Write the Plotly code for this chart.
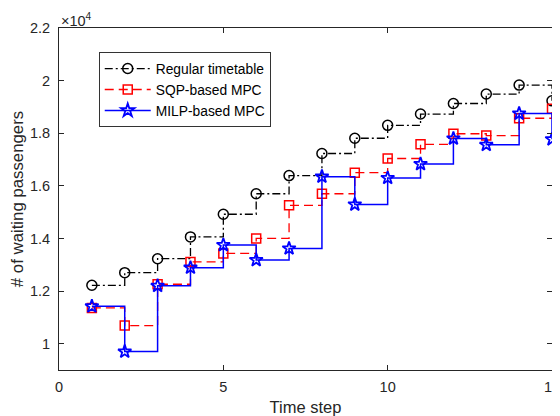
import plotly.graph_objects as go

time_steps = list(range(1, 16))
regular_timetable = [12220, 12700, 13230, 14060, 14920, 15700, 16390, 17230, 17810, 18300, 18730, 19130, 19490, 19830, 19230]
sqp_mpc = [11360, 10690, 12260, 13110, 13430, 14000, 15260, 15700, 16500, 17040, 17580, 17980, 17910, 18570, 18930]
milp_mpc = [11420, 9700, 12200, 12890, 13750, 13180, 13620, 16350, 15290, 16300, 16830, 17800, 17560, 18750, 17770]

y_tickvals = [10000, 12000, 14000, 16000, 18000, 20000, 22000]
y_ticktext = ["1", "1.2", "1.4", "1.6", "1.8", "2", "2.2"]
x_tickvals = [0, 5, 10, 15]

FONT = "Liberation Sans, Arial, Helvetica, sans-serif"
AX = "#262626"

fig = go.Figure()
fig.add_trace(go.Scatter(
    x=time_steps, y=regular_timetable, name="Regular timetable",
    mode="lines+markers", line=dict(shape="hv", color="black", width=1.3, dash="8px,3px,2px,3px"),
    marker=dict(symbol="circle-open", size=10, color="black", line=dict(width=1.5)),
    cliponaxis=False,
))
fig.add_trace(go.Scatter(
    x=time_steps, y=sqp_mpc, name="SQP-based MPC",
    mode="lines+markers", line=dict(shape="hv", color="red", width=1.3, dash="9px,5px"),
    marker=dict(symbol="square-open", size=9, color="red", line=dict(width=1.5)),
    cliponaxis=False,
))
fig.add_trace(go.Scatter(
    x=time_steps, y=milp_mpc, name="MILP-based MPC",
    mode="lines+markers", line=dict(shape="hv", color="blue", width=1.5),
    marker=dict(symbol="star-open", size=10, color="blue", line=dict(width=1.8)),
    cliponaxis=False,
))

# page body has an 8px margin; margins below compensate so the plot area lands
# at x 58.5..551.7, y 28..370.5 in the window
fig.update_layout(
    width=560, height=416,
    margin=dict(l=50.5, r=16.3, t=20, b=53.5),
    paper_bgcolor="white", plot_bgcolor="white",
    font=dict(family=FONT, size=14.5, color=AX),
    showlegend=True,
    legend=dict(
        x=0.081, y=0.929, xanchor="left", yanchor="top",
        bordercolor="black", borderwidth=0.8, bgcolor="white",
        font=dict(family=FONT, size=13.8, color="black"),
        tracegroupgap=0, itemwidth=46,
    ),
    annotations=[dict(
        text="×10<sup>4</sup>", x=0, y=1, xref="paper", yref="paper",
        xanchor="left", yanchor="bottom", showarrow=False,
        font=dict(family=FONT, size=14.5, color=AX), xshift=0, yshift=-3,
    )],
)
fig.update_xaxes(
    range=[0, 15], tickvals=x_tickvals, ticks="inside", ticklen=5, tickcolor=AX,
    showline=True, linecolor=AX, linewidth=1, mirror="ticks", showgrid=False, zeroline=False,
    automargin=False, ticklabelstandoff=4, ticklabeloverflow="allow",
    title=dict(text="Time step", font=dict(family=FONT, size=16.5, color=AX), standoff=7),
)
fig.update_yaxes(
    range=[9000, 22000], tickvals=y_tickvals, ticktext=y_ticktext, ticks="inside", ticklen=5, tickcolor=AX,
    showline=True, linecolor=AX, linewidth=1, mirror="ticks", showgrid=False, zeroline=False,
    automargin=False, ticklabelstandoff=5,
    title=dict(text="# of waiting passengers", font=dict(family=FONT, size=16.8, color=AX), standoff=7),
)

fig.write_html("out.html")
